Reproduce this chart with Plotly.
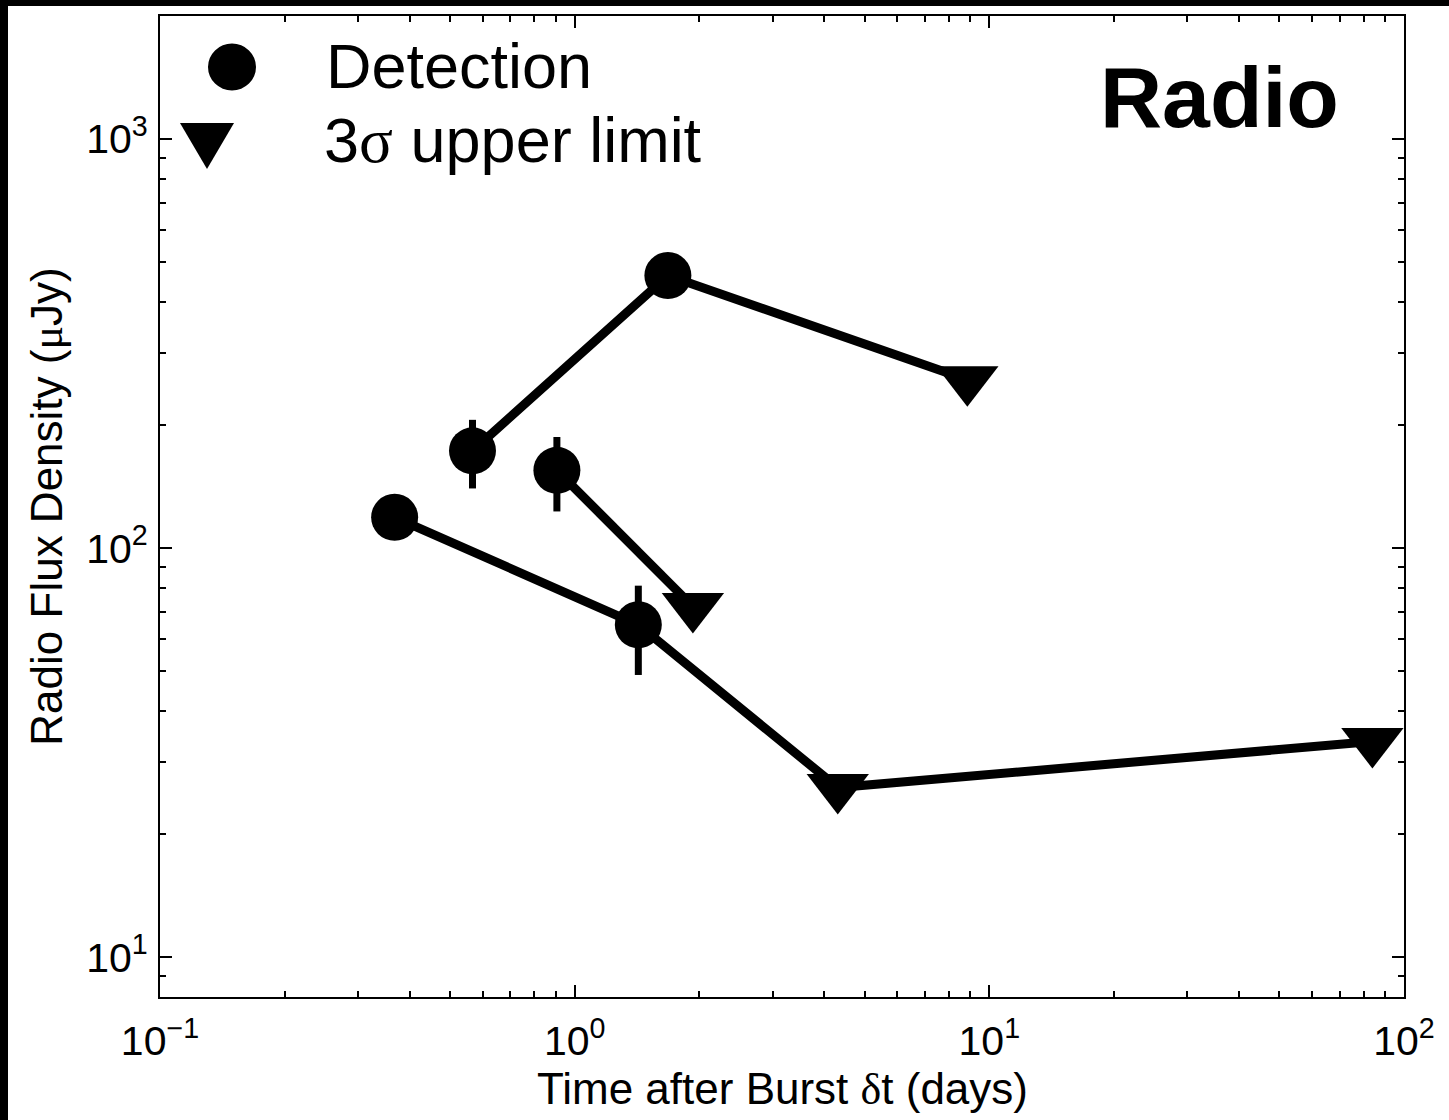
import plotly.graph_objects as go

# ---- data ----
s1_t = [0.567, 1.678, 8.85]
s1_f = [173, 464, 258]
s1_err = [33, 0, 0]
s1_sym = ["circle", "circle", "triangle-down"]

s2_t = [0.906, 1.928]
s2_f = [155, 72]
s2_err = [32, 0]
s2_sym = ["circle", "triangle-down"]

s3_t = [0.368, 1.424, 4.31, 83.9]
s3_f = [119, 65, 26, 33.7]
s3_err = [0, 16, 0, 0]
s3_sym = ["circle", "circle", "triangle-down", "triangle-down"]

x_tickvals = [0.1, 1, 10, 100]
x_ticktext = ["10<sup>−1</sup>", "10<sup>0</sup>", "10<sup>1</sup>", "10<sup>2</sup>"]
y_tickvals = [10, 100, 1000]
y_ticktext = ["10<sup>1</sup>", "10<sup>2</sup>", "10<sup>3</sup>"]

x_minor = [m * d for d in (0.1, 1, 10) for m in range(2, 10)]
y_minor = [8, 9] + [m * d for d in (10, 100) for m in range(2, 10)]

FONT = "Liberation Sans, Arial, Helvetica, sans-serif"
SERIF = "Liberation Serif"

fig = go.Figure()
for t, f, e, s in [(s1_t, s1_f, s1_err, s1_sym), (s2_t, s2_f, s2_err, s2_sym), (s3_t, s3_f, s3_err, s3_sym)]:
    fig.add_trace(go.Scatter(
        x=t, y=f, mode="lines+markers",
        line=dict(color="black", width=9),
        marker=dict(symbol=s, size=[47 if k == "circle" else 54 for k in s], color="black",
                    opacity=1, line=dict(width=0)),
        error_y=dict(type="data", array=e, visible=True, color="black", thickness=7, width=0),
        showlegend=False,
    ))

axis_common = dict(
    type="log", showgrid=False, zeroline=False,
    showline=True, linecolor="black", linewidth=2, mirror="ticks",
    ticks="inside", ticklen=12, tickwidth=1.5, tickcolor="black",
    tickfont=dict(family=FONT, size=41, color="black"),
)

fig.update_xaxes(
    **axis_common, range=[-1, 2],
    tickmode="array", tickvals=x_tickvals, ticktext=x_ticktext,
    minor=dict(tickmode="array", tickvals=x_minor, ticks="inside", ticklen=6, tickwidth=1.5, tickcolor="black", showgrid=False),
    ticklabelstandoff=7,
)
fig.update_yaxes(
    **axis_common, range=[0.903, 3.301],
    tickmode="array", tickvals=y_tickvals, ticktext=y_ticktext,
    minor=dict(tickmode="array", tickvals=y_minor, ticks="inside", ticklen=6, tickwidth=1.5, tickcolor="black", showgrid=False),
    ticklabelstandoff=2,
    title=dict(text=f"Radio Flux Density (<span style=\"font-family:{SERIF}\">μ</span>Jy)",
               font=dict(family=FONT, size=44, color="black"), standoff=10),
)

L, R, T, B = 160, 45, 16, 123
W, H = 1449, 1120
pw, ph = W - L - R, H - T - B

def px(x):
    return (x - L) / pw

def py(y):
    return 1 - (y - T) / ph

shapes = [
    # black strips at left and top of the page
    dict(type="rect", xref="paper", yref="paper", xsizemode="pixel", xanchor=0, x0=-L - 20, x1=-L + 8,
         y0=-0.5, y1=1.5, fillcolor="black", line=dict(width=0), layer="above"),
    dict(type="rect", xref="paper", yref="paper", ysizemode="pixel", yanchor=1, y0=T - 6, y1=T + 20,
         x0=-0.5, x1=1.5, fillcolor="black", line=dict(width=0), layer="above"),
    # legend keys
    dict(type="circle", xref="paper", yref="paper", xsizemode="pixel", ysizemode="pixel",
         xanchor=px(232), yanchor=py(67), x0=-24, x1=24, y0=-23.5, y1=23.5,
         fillcolor="black", line=dict(width=0)),
    dict(type="path", xref="paper", yref="paper", xsizemode="pixel", ysizemode="pixel",
         xanchor=px(207), yanchor=py(146), path="M-27,23 L27,23 L0,-23 Z",
         fillcolor="black", line=dict(width=0)),
]

annotations = [
    dict(text="Detection", xref="paper", yref="paper", x=px(324), y=py(66.5), xanchor="left", yanchor="middle",
         showarrow=False, font=dict(family=FONT, size=63, color="black")),
    dict(text=f"3<span style=\"font-family:{SERIF}\">σ</span> upper limit", xref="paper", yref="paper",
         x=px(322), y=py(140), xanchor="left", yanchor="middle",
         showarrow=False, font=dict(family=FONT, size=63, color="black")),
    dict(text="<b>Radio</b>", xref="paper", yref="paper", x=px(1341), y=py(97), xanchor="right", yanchor="middle",
         showarrow=False, font=dict(family=FONT, size=86, color="black")),
    dict(text=f"Time after Burst <span style=\"font-family:{SERIF}\">δ</span>t (days)", xref="paper", yref="paper",
         x=0.5, y=py(1089), xanchor="center", yanchor="middle",
         showarrow=False, font=dict(family=FONT, size=44, color="black")),
]

fig.update_layout(
    width=W, height=H,
    margin=dict(l=L, r=R, t=T, b=B),
    paper_bgcolor="white", plot_bgcolor="white",
    shapes=shapes, annotations=annotations,
    showlegend=False,
)

fig.write_html("out.html")
